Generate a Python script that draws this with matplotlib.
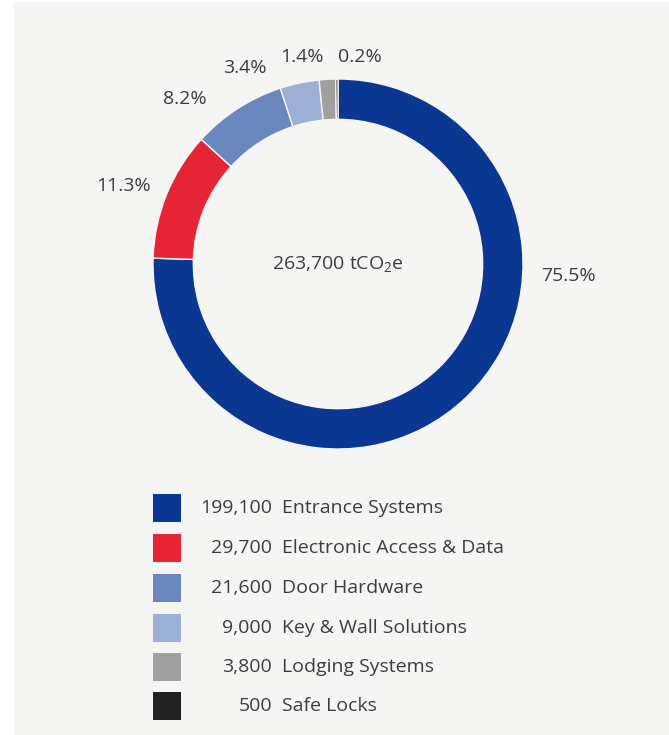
import matplotlib.pyplot as plt
from matplotlib.patches import Rectangle

# emissions by division, tCO2e
divisions = [
    "Entrance Systems",
    "Electronic Access & Data",
    "Door Hardware",
    "Key & Wall Solutions",
    "Lodging Systems",
    "Safe Locks",
]
emissions = [199100, 29700, 21600, 9000, 3800, 500]
colors = ["#0a3791", "#e52535", "#6a88be", "#9bb0d4", "#a0a0a0", "#222222"]

# where the percentage labels sit, in units of the outer radius
label_pos = [(1.243, -0.065), (-1.157, 0.422), (-0.827, 0.892),
             (-0.503, 1.059), (-0.195, 1.119), (0.119, 1.119)]

W, H = 669, 735
BG = "#f5f5f3"
TEXT = "#3d3d3d"
FS = 14

plt.rcParams["font.family"] = ["Open Sans", "DejaVu Sans"]
plt.rcParams["mathtext.fontset"] = "custom"
plt.rcParams["mathtext.rm"] = "Open Sans"
plt.rcParams["mathtext.it"] = "Open Sans"

fig = plt.figure(figsize=(W / 100, H / 100), dpi=100)
fig.patch.set_facecolor("white")

# light grey panel
base = fig.add_axes([0, 0, 1, 1])
base.set_xlim(0, W)
base.set_ylim(H, 0)
base.axis("off")
base.add_patch(Rectangle((14, 2), W - 14, H - 2, facecolor=BG, edgecolor="none"))

# donut
cx, cy, R = 338, 264, 185
half = 260
ax = fig.add_axes([(cx - half) / W, (H - cy - half) / H, 2 * half / W, 2 * half / H])

total = sum(emissions)
ax.pie(
    emissions,
    colors=colors,
    startangle=90,
    counterclock=False,
    radius=1.0,
    wedgeprops=dict(width=0.218, edgecolor=BG, linewidth=1.0),
)
ax.set_xlim(-half / R, half / R)
ax.set_ylim(-half / R, half / R)
ax.set_aspect("equal")
ax.axis("off")

for val, (lx, ly) in zip(emissions, label_pos):
    ax.text(lx, ly, f"{val / total * 100:.1f}%", ha="center", va="center",
            fontsize=FS, color=TEXT)

ax.text(0, 0, f"{total:,} tCO$_2$e", ha="center", va="center", fontsize=FS, color=TEXT)

# legend
row_y = [508, 548, 588, 628, 667, 706]
for name, val, col, y in zip(divisions, emissions, colors, row_y):
    base.add_patch(Rectangle((153, y - 14), 28, 28, facecolor=col, edgecolor="none"))
    base.text(272, y, f"{val:,}", ha="right", va="center", fontsize=FS, color=TEXT)
    base.text(282, y, name, ha="left", va="center", fontsize=FS, color=TEXT)

fig.savefig("out.png", dpi=100, facecolor=fig.get_facecolor())
